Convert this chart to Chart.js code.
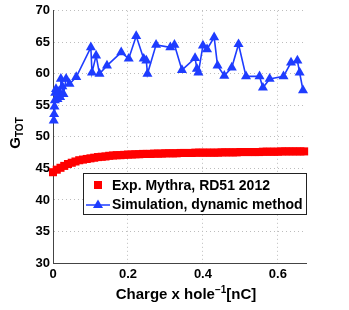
<!DOCTYPE html>
<html lang="en">
  <head>
    <meta charset="UTF-8" />
    <title>G_TOT vs charge</title>
    <script src="https://cdn.jsdelivr.net/npm/chart.js"></script>
    <style>
      body {
        margin: 0;
        padding: 0;
        background: #ffffff;
      }
      .chart-box {
        width: 349px;
        height: 310px;
      }
    </style>
  </head>
  <body>
    <div class="chart-box">
      <canvas id="chartGain" width="349" height="310"></canvas>
    </div>

    <script>
      // Simulation, dynamic method (blue triangles)
      const simX = [
        0.002, 0.003, 0.004, 0.005, 0.006, 0.008, 0.012, 0.016, 0.019, 0.021,
        0.025, 0.028, 0.035, 0.044, 0.062, 0.101, 0.104, 0.115, 0.124, 0.144,
        0.182, 0.202, 0.222, 0.242, 0.249, 0.252, 0.275, 0.313, 0.324, 0.344,
        0.379, 0.384, 0.388, 0.4, 0.411, 0.43, 0.439, 0.457, 0.477, 0.495,
        0.515, 0.551, 0.56, 0.578, 0.615, 0.635, 0.652, 0.658, 0.667,
      ];
      const simY = [
        52.6, 53.6, 54.8, 55.8, 57.0, 57.6, 56.0, 57.2, 56.3, 59.2,
        58.0, 56.8, 59.2, 58.4, 59.5, 64.2, 60.2, 62.9, 60.0, 61.3,
        63.4, 62.4, 66.0, 62.4, 62.1, 60.0, 64.6, 64.2, 64.6, 60.6,
        62.5, 60.8, 60.2, 64.5, 63.9, 65.8, 61.3, 59.7, 61.0, 64.7,
        59.6, 59.6, 57.8, 59.2, 59.6, 61.8, 62.1, 60.2, 57.4,
      ];

      // Exp. Mythra, RD51 2012 (red squares)
      const expX = [
        0.0, 0.01, 0.02, 0.03, 0.04, 0.05, 0.06, 0.07, 0.08, 0.09,
        0.1, 0.11, 0.12, 0.13, 0.14, 0.15, 0.16, 0.17, 0.18, 0.19,
        0.2, 0.21, 0.22, 0.23, 0.24, 0.25, 0.26, 0.27, 0.28, 0.29,
        0.3, 0.31, 0.32, 0.33, 0.34, 0.35, 0.36, 0.37, 0.38, 0.39,
        0.4, 0.41, 0.42, 0.43, 0.44, 0.45, 0.46, 0.47, 0.48, 0.49,
        0.5, 0.51, 0.52, 0.53, 0.54, 0.55, 0.56, 0.57, 0.58, 0.59,
        0.6, 0.61, 0.62, 0.63, 0.64, 0.65, 0.66, 0.67,
      ];
      const expY = [
        44.4, 44.8, 45.1, 45.4, 45.7, 45.9, 46.1, 46.3, 46.4, 46.5,
        46.6, 46.7, 46.8, 46.85, 46.9, 47.0, 47.05, 47.1, 47.1, 47.15,
        47.2, 47.2, 47.25, 47.25, 47.3, 47.3, 47.3, 47.35, 47.35, 47.35,
        47.4, 47.4, 47.4, 47.4, 47.45, 47.45, 47.45, 47.45, 47.5, 47.5,
        47.5, 47.5, 47.5, 47.5, 47.5, 47.55, 47.55, 47.55, 47.55, 47.55,
        47.6, 47.6, 47.6, 47.6, 47.6, 47.6, 47.65, 47.65, 47.65, 47.65,
        47.65, 47.7, 47.7, 47.7, 47.7, 47.7, 47.7, 47.7,
      ];

      const xTicks = [0, 0.2, 0.4, 0.6];
      const yTicks = [30, 35, 40, 45, 50, 55, 60, 65, 70];
      const legendLabels = ["Exp. Mythra, RD51 2012", "Simulation, dynamic method"];

      const RED = "#ff0000";
      const BLUE = "#1e3cff";
      const FONT = "Liberation Sans, Arial, sans-serif";

      // axis titles + legend drawn by hand (matlab style)
      const extras = {
        id: "extras",
        afterDraw(chart) {
          const ctx = chart.ctx;
          ctx.save();
          ctx.fillStyle = "#000";

          // x title with superscript
          const a = "Charge x hole";
          const b = "[nC]";
          ctx.font = "bold 10px " + FONT;
          const supW = ctx.measureText("\u22121").width;
          ctx.font = "bold 15px " + FONT;
          const wa = ctx.measureText(a).width;
          const wb = ctx.measureText(b).width;
          let x0 = 186 - (wa + supW + wb) / 2;
          const yb = 299;
          ctx.textBaseline = "alphabetic";
          ctx.textAlign = "left";
          ctx.fillText(a, x0, yb);
          ctx.font = "bold 10px " + FONT;
          ctx.fillText("\u22121", x0 + wa, yb - 6);
          ctx.font = "bold 15px " + FONT;
          ctx.fillText(b, x0 + wa + supW, yb);

          // y title G_TOT
          ctx.save();
          ctx.translate(20, 133);
          ctx.rotate(-Math.PI / 2);
          ctx.font = "bold 15px " + FONT;
          const wg = ctx.measureText("G").width;
          ctx.font = "bold 10px " + FONT;
          const wt = ctx.measureText("TOT").width;
          const s = -(wg + wt) / 2;
          ctx.font = "bold 15px " + FONT;
          ctx.fillText("G", s, 0);
          ctx.font = "bold 10px " + FONT;
          ctx.fillText("TOT", s + wg, 3);
          ctx.restore();

          // legend box
          const lx = 83.5, ly = 173.5, lw = 223, lh = 41;
          ctx.fillStyle = "#fff";
          ctx.fillRect(lx, ly, lw, lh);
          ctx.strokeStyle = "#222";
          ctx.lineWidth = 1;
          ctx.strokeRect(lx, ly, lw, lh);

          ctx.fillStyle = RED;
          ctx.fillRect(94, 181, 8, 8);

          ctx.strokeStyle = BLUE;
          ctx.lineWidth = 1.5;
          ctx.beginPath();
          ctx.moveTo(86, 205);
          ctx.lineTo(110, 205);
          ctx.stroke();
          ctx.fillStyle = BLUE;
          ctx.beginPath();
          ctx.moveTo(98, 199.5);
          ctx.lineTo(103, 208);
          ctx.lineTo(93, 208);
          ctx.closePath();
          ctx.fill();

          ctx.fillStyle = "#000";
          ctx.font = "bold 14px " + FONT;
          ctx.textBaseline = "middle";
          ctx.fillText(legendLabels[0], 112, 186);
          ctx.fillText(legendLabels[1], 112, 205);
          ctx.restore();
        },
      };

      const ctxGain = document.getElementById("chartGain");
      new Chart(ctxGain, {
        type: "line",
        data: {
          datasets: [
            {
              label: legendLabels[0],
              data: expX.map((x, i) => ({ x: x, y: expY[i] })),
              showLine: false,
              pointStyle: "rect",
              pointRadius: 5.7,
              pointBackgroundColor: RED,
              pointBorderColor: RED,
              pointBorderWidth: 0,
              clip: false,
            },
            {
              label: legendLabels[1],
              data: simX.map((x, i) => ({ x: x, y: simY[i] })),
              borderColor: BLUE,
              borderWidth: 1.6,
              pointStyle: "triangle",
              pointRadius: 5.8,
              pointBackgroundColor: BLUE,
              pointBorderColor: BLUE,
              pointBorderWidth: 0,
              tension: 0,
              clip: false,
            },
          ],
        },
        options: {
          responsive: false,
          animation: false,
          layout: { padding: { top: 10, right: 43, left: 0, bottom: 0 } },
          plugins: {
            legend: { display: false },
            tooltip: { enabled: false },
          },
          scales: {
            x: {
              type: "linear",
              min: 0,
              max: 0.675,
              afterBuildTicks: (s) => {
                s.ticks = xTicks.map((v) => ({ value: v }));
              },
              afterFit: (s) => {
                s.height = 47;
              },
              ticks: {
                color: "#000",
                padding: 4,
                font: { family: FONT, size: 13, weight: "bold" },
                callback: (v) => String(v),
              },
              grid: { color: "#bdbdbd", drawTicks: false },
              border: { display: true, color: "#444", dash: [1, 3] },
            },
            y: {
              min: 30,
              max: 70,
              afterBuildTicks: (s) => {
                s.ticks = yTicks.map((v) => ({ value: v }));
              },
              afterFit: (s) => {
                s.width = 53;
              },
              ticks: {
                color: "#000",
                padding: 3,
                font: { family: FONT, size: 13, weight: "bold" },
              },
              grid: { color: "#bdbdbd", drawTicks: false },
              border: { display: true, color: "#444", dash: [1, 3] },
            },
          },
        },
        plugins: [extras],
      });
    </script>
  </body>
</html>
